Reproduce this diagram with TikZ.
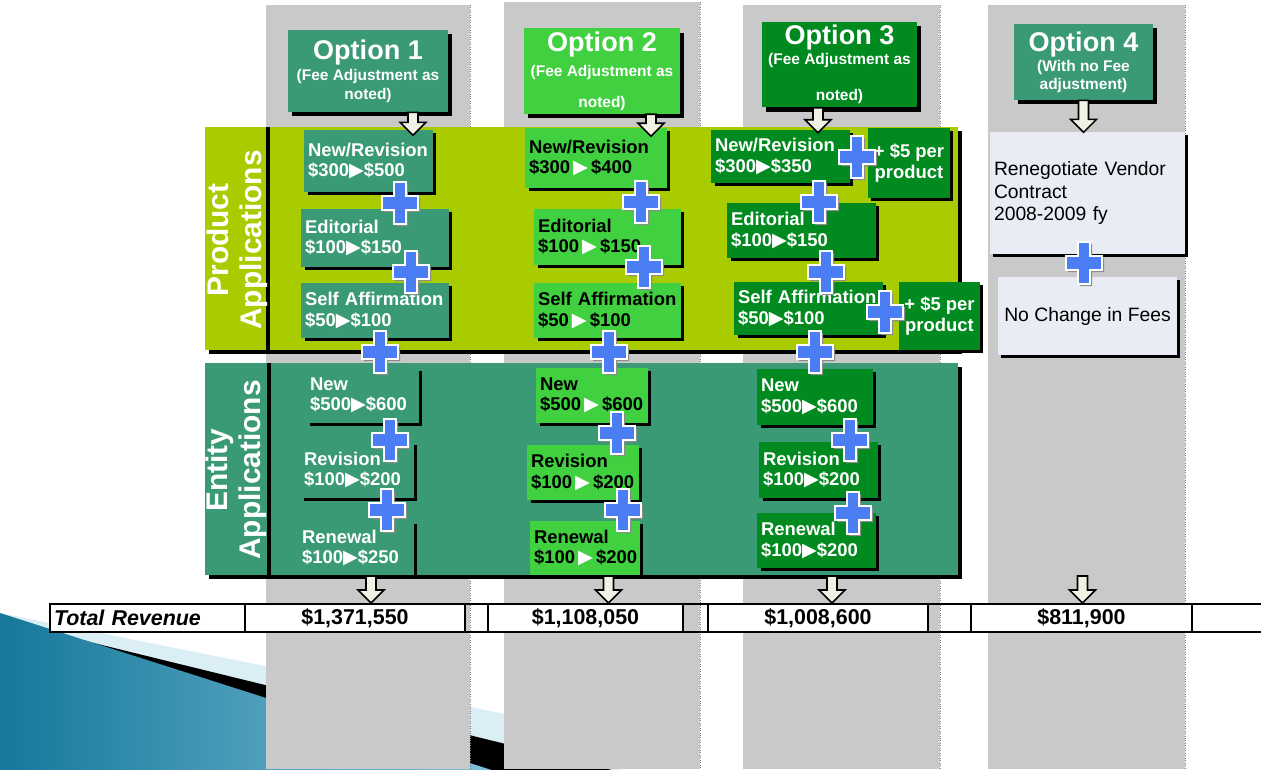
\documentclass[tikz,border=0pt]{standalone}
\usepackage{fontspec}
\setmainfont{Liberation Sans}
\newfontfamily\dejavu{DejaVu Sans}
\usetikzlibrary{positioning,calc,shadows}
\definecolor{optteal}{HTML}{3A9A76}
\definecolor{optbright}{HTML}{40D040}
\definecolor{optdark}{HTML}{008A20}
\definecolor{lime}{HTML}{A8CC00}
\definecolor{colgray}{HTML}{C9C9C9}
\definecolor{plusblue}{HTML}{4A7EF2}
\definecolor{palecol}{HTML}{E9EBF5}
\definecolor{cream}{HTML}{F2F2E4}
\definecolor{decodark}{HTML}{16789A}
\definecolor{decolight}{HTML}{9AD4E8}
\definecolor{decopale}{HTML}{DCEEF5}
\newcommand{\pxu}{0.02cm}
\newcommand{\boxfont}{\fontsize{10.5}{11.6}\selectfont\bfseries}
\newcommand{\ttlfont}{\fontsize{15.4}{17}\selectfont\bfseries}
\newcommand{\subfont}{\fontsize{8.8}{10.4}\selectfont\bfseries}
\newcommand{\palefont}{\fontsize{11}{12.6}\selectfont}
\newcommand{\bandfont}{\fontsize{17}{19}\selectfont\bfseries}
\newcommand{\totfont}{\fontsize{12.2}{14}\selectfont\bfseries}
\newcommand{\tri}{{\color{white}\dejavu\fontsize{11}{11}\selectfont ▶}}
\tikzset{
  plussign/.pic={
    \fill[black!45] (-4,-19) -- (8,-19) -- (8,-5) -- (20,-5) -- (20,9) -- (8,9) -- (8,23)
      -- (-4,23) -- (-4,9) -- (-16,9) -- (-16,-5) -- (-4,-5) -- cycle;
    \draw[white,line width=1pt,fill=plusblue] (-6,-21) -- (6,-21) -- (6,-7) -- (18,-7) -- (18,7)
      -- (6,7) -- (6,21) -- (-6,21) -- (-6,7) -- (-18,7) -- (-18,-7) -- (-6,-7) -- cycle;
  },
  pics/dnarr/.style={code={
    \draw[black,line width=0.9pt,fill=cream] (-5,0) -- (5,0) -- (5,#1-13) -- (13,#1-13)
      -- (0,#1) -- (-13,#1-13) -- (-5,#1-13) -- cycle;}}
}

\begin{document}
\begin{tikzpicture}[x=0.02cm,y=-0.02cm,
  every node/.style={font=\boxfont,align=center,inner sep=2pt},
  sz/.style 2 args={minimum width=#1*\pxu,minimum height=#2*\pxu},
  tw/.style={text width=#1*\pxu},
  hdr/.style={text=white,font=\subfont,
              drop shadow={shadow xshift=2.5pt,shadow yshift=-2.5pt,fill=black,opacity=1}},
  fbox/.style={align=left,drop shadow={shadow xshift=1.8pt,shadow yshift=-1.8pt,fill=black,opacity=1}},
  tealbox/.style={fbox,fill=optteal,text=white},
  brightbox/.style={fbox,fill=optbright,text=black},
  darkbox/.style={fbox,fill=optdark,text=white},
  palebox/.style={fbox,fill=palecol,text=black,font=\palefont},
  band/.style={drop shadow={shadow xshift=2.5pt,shadow yshift=-2pt,fill=black,opacity=1}},
  bandlbl/.style={rotate=90,text=white,font=\bandfont},
  rcell/.style={draw=black,line width=1.2pt,font=\totfont}
]
\path[use as bounding box,fill=white] (0,0) rectangle (1261,769);

% slide decoration, bottom left
\fill[decopale] (0,613) -- (620,737) -- (620,800) -- (0,800) -- cycle;
\fill[black] (0,620) -- (620,772) -- (620,800) -- (0,800) -- cycle;
\shade[left color=decodark,right color=decolight] (0,613) -- (620,811) -- (0,811) -- cycle;

% option columns
\foreach \xa/\xb/\yt in {266/470/5,504/700/2,743/940/5,988/1185/5}{
  \fill[colgray] (\xa,\yt) rectangle (\xb,769);
  \draw[densely dotted,gray] (\xb,\yt) -- (\xb,769);
}

% bands
\node[band,fill=lime,sz={753}{223}] (prodband) at (581.5,238.5) {};
\node[band,fill=optteal,sz={753}{212}] (entband) at (581.5,469) {};
\draw[line width=2.2pt] ($(prodband.north west)+(63,0)$) -- ($(prodband.south west)+(63,0)$);
\draw[line width=2.2pt] ($(entband.north west)+(64,0)$) -- ($(entband.south west)+(64,0)$);
\node[bandlbl] (prodlbl) at (237,240) {Product\\Applications};
\node[bandlbl] (entlbl) at (236,470) {Entity\\Applications};

% headers
\node[hdr,fill=optteal,sz={160}{82}] (opt1) at (368,71)
  {{\ttlfont Option 1}\\[2pt](Fee Adjustment as\\noted)};
\node[hdr,fill=optbright,sz={156}{82}] (opt2) at (602,71)
  {{\ttlfont Option 2}\\[4pt](Fee Adjustment as\\[7pt]noted)};
\node[hdr,fill=optdark,sz={155}{75}] (opt3) at (839.5,64.5)
  {{\ttlfont Option 3}\\[1pt](Fee Adjustment as\\[10pt]noted)};
\node[hdr,fill=optteal,sz={139}{76}] (opt4) at (1083.5,62)
  {{\ttlfont Option 4}\\[1pt](With no Fee\\adjustment)};

% product applications
\node[tealbox,sz={127}{62},tw=121] (p11) at (368.5,161) {New/Revision\\\$300\tri\$500};
\node[tealbox,sz={146}{58},tw=140] (p12) at (375,238) {Editorial\\\$100\tri\$150};
\node[tealbox,sz={146}{55},tw=140] (p13) at (375,310.5) {Self Affirmation\\\$50\tri\$100};
\node[brightbox,sz={138}{60},tw=134] (p21) at (596,158) {New/Revision\\\$300\,\tri\,\$400};
\node[brightbox,sz={145}{56},tw=139] (p22) at (607.5,237) {Editorial\\\$100\,\tri\,\$150};
\node[brightbox,sz={145}{55},tw=139] (p23) at (607.5,310.5) {Self Affirmation\\\$50\,\tri\,\$100};
\node[darkbox,sz={135}{53},tw=131] (p31) at (780.5,156.5) {New/Revision\\\$300\tri\$350};
\node[darkbox,sz={82}{70},align=center] (p31x) at (909,163) {+ \$5 per\\product};
\node[darkbox,sz={147}{55},tw=141] (p32) at (801.5,230.5) {Editorial\\\$100\tri\$150};
\node[darkbox,sz={147}{53},tw=141] (p33) at (808.5,308.5) {Self Affirmation\\\$50\tri\$100};
\node[darkbox,sz={81}{68},align=center] (p33x) at (939.5,316) {+ \$5 per\\product};
\node[palebox,sz={195}{122},tw=187] (r1) at (1087.5,193) {Renegotiate Vendor\\Contract\\2008-2009 fy};
\node[palebox,sz={179}{78},align=center] (r2) at (1087.5,316) {No Change in Fees};

% entity applications
\node[tealbox,sz={111}{55},tw=105] (e11) at (362.5,395.5) {New\\\$500\tri\$600};
\node[tealbox,sz={112}{56},tw=106] (e12) at (357,470) {Revision\\\$100\tri\$200};
\node[tealbox,sz={114}{54},tw=108] (e13) at (356,548) {Renewal\\\$100\tri\$250};
\node[brightbox,sz={110}{55},tw=104] (e21) at (592,395.5) {New\\\$500\,\tri\,\$600};
\node[brightbox,sz={110}{55},tw=104] (e22) at (583,472.5) {Revision\\\$100\,\tri\,\$200};
\node[brightbox,sz={106}{54},tw=102] (e23) at (585,548) {Renewal\\\$100\,\tri\,\$200};
\node[darkbox,sz={114}{56},tw=108] (e31) at (815,397) {New\\\$500\tri\$600};
\node[darkbox,sz={117}{56},tw=111] (e32) at (818.5,470) {Revision\\\$100\tri\$200};
\node[darkbox,sz={117}{55},tw=111] (e33) at (816.5,540.5) {Renewal\\\$100\tri\$200};

% plus signs
\foreach \px/\py in {400/203,411/272,380/352,641/202,644/267,609/352,
  857/157,819/202,826/272,885/312,815/352,1084/263,
  390/440,387/510,617/433,623/510,850/440,853/513}
  \pic at (\px,\py) {plussign};

% total revenue row
\node[rcell,fill=white,sz={195}{28},align=left,tw=187,font=\totfont\itshape]
  (totlbl) at (147.5,618) {Total Revenue};
\node[rcell,fill=white,sz={220}{28}] (tot1) at (355,618) {\$1,371,550};
\node[rcell,sz={23}{28}] (gap1) at (476.5,618) {};
\node[rcell,fill=white,sz={195}{28}] (tot2) at (585.5,618) {\$1,108,050};
\node[rcell,sz={25}{28}] (gap2) at (695.5,618) {};
\node[rcell,fill=white,sz={220}{28}] (tot3) at (818,618) {\$1,008,600};
\node[rcell,sz={43}{28}] (gap3) at (949.5,618) {};
\node[rcell,fill=white,sz={221}{28}] (tot4) at (1081.5,618) {\$811,900};
\node[rcell,sz={100}{28}] (gap4) at (1242,618) {};

% arrows
\pic at ($(opt1.south)+(45,0)$) {dnarr=23};
\pic at ($(opt2.south)+(49,0)$) {dnarr=22};
\pic at ($(opt3.south)+(-21.5,0)$) {dnarr=25};
\pic at ($(opt4.south)+(0,0)$) {dnarr=32};
\pic at ($(tot1.north)+(16,-27)$) {dnarr=27};
\pic at ($(tot2.north)+(23,-27)$) {dnarr=27};
\pic at ($(tot3.north)+(14,-27)$) {dnarr=27};
\pic at ($(tot4.north)+(1,-27)$) {dnarr=27};
\end{tikzpicture}
\end{document}
